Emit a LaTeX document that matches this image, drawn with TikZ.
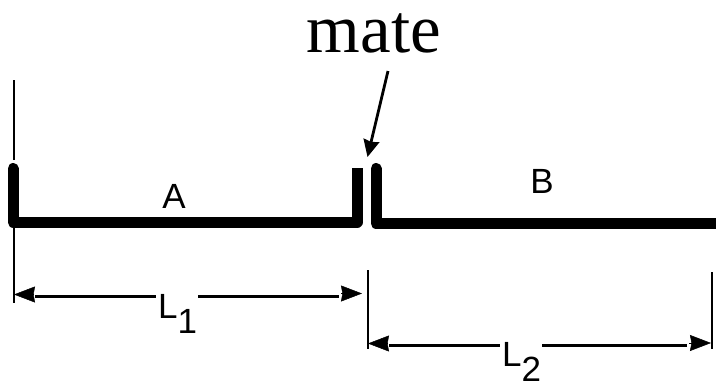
\documentclass[tikz,border=0pt]{standalone}
\usepackage{fontspec}
\setmainfont{Liberation Sans}
\newfontfamily\matefont{Liberation Serif}
\usetikzlibrary{arrows.meta}
\tikzset{
  plate/.style = {line width=11pt, line join=round, line cap=round},
  thin line/.style = {line width=2.5pt},
  dimline/.style = {line width=3pt},
  dimtip/.style = {line width=0.5pt, -{Stealth[length=21pt,width=16pt,inset=1.5pt]}},
  matetip/.style = {line width=2.8pt, -{Stealth[length=17pt,width=16pt,inset=1.5pt]}},
  lbl/.style = {font=\fontsize{35}{35}\selectfont, inner sep=0pt},
}
\newcommand{\sublow}[1]{\raisebox{-15pt}{#1}}

\begin{document}
\begin{tikzpicture}[x=1pt,y=-1pt]
  \useasboundingbox (0,0) rectangle (716,383);
  \coordinate (top_A) at (14,80);
  \coordinate (bot_A) at (14,303);
  \coordinate (top_M) at (368,270);
  \coordinate (bot_M) at (368,349);
  \coordinate (top_B) at (712,272);
  \coordinate (bot_B) at (712,349);
  \coordinate (tip_M) at (367.5,157);

  \node[font=\fontsize{69}{69}\selectfont\matefont, inner sep=0pt, anchor=base] (mate) at (374,52) {mate};
  \node[lbl, anchor=base] (A) at (174,208) {A};
  \node[lbl, anchor=base] (B) at (542,193) {B};
  \node[lbl, anchor=base west] (L1) at (158,318) {L\sublow{1}};
  \node[lbl, anchor=base west] (L2) at (502,366.5) {L\sublow{2}};

  % thin lines
  \draw[thin line] (top_A) -- (14,160);
  \draw[thin line] (14,225) -- (bot_A);
  \draw[thin line] (top_M) -- (bot_M);
  \draw[thin line] (top_B) -- (bot_B);

  % plates
  \draw[plate] (13,168.5) -- (13,222) -- (357,222) -- (357,190);
  \draw[line width=11pt] (357,168) -- (357,200);
  \draw[plate] (376,168.5) -- (376,223.5) -- (716,223.5);

  % dimensions
  \draw[dimline] (35,296) -- (156,296);
  \draw[dimline] (198,296) -- (339,296);
  \draw[dimline] (389,345.5) -- (500,345.5);
  \draw[dimline] (542,345.5) -- (687,345.5);
  \draw[dimtip] (33,294.5) -- (14,294.5);
  \draw[dimtip] (341,293.5) -- (362,293.5);
  \draw[dimtip] (387,343.5) -- (368,343.5);
  \draw[dimtip] (689,343) -- (711,343);
  \draw[matetip] (388,71) -- (tip_M);
\end{tikzpicture}
\end{document}
